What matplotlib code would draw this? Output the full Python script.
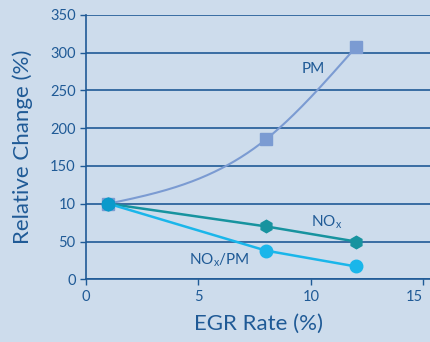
import numpy as np
import matplotlib
matplotlib.use("Agg")
import matplotlib.pyplot as plt

egr = [1, 8, 12]
pm = [100, 185, 307]
nox = [100, 70, 50]
nox_pm = [100, 38, 17]
yticks = [0, 50, 100, 150, 200, 250, 300, 350]
ytick_labels = ["0", "50", "10", "150", "200", "250", "300", "350"]
xticks = [0, 5, 10, 15]

bg = "#cddcec"
dark = "#1f5a96"
c_pm = "#7b9bd2"
c_nox = "#17939f"
c_noxpm = "#1ab6ea"
font = "Lato"


def natural_spline(x, y, n=300):
    x = np.asarray(x, float)
    y = np.asarray(y, float)
    k = len(x)
    h = np.diff(x)
    A = np.zeros((k, k))
    b = np.zeros(k)
    A[0, 0] = A[-1, -1] = 1
    for i in range(1, k - 1):
        A[i, i - 1] = h[i - 1]
        A[i, i] = 2 * (h[i - 1] + h[i])
        A[i, i + 1] = h[i]
        b[i] = 6 * ((y[i + 1] - y[i]) / h[i] - (y[i] - y[i - 1]) / h[i - 1])
    M = np.linalg.solve(A, b)
    xs = np.linspace(x[0], x[-1], n)
    ys = np.empty_like(xs)
    for j, xv in enumerate(xs):
        i = min(np.searchsorted(x, xv, side="right") - 1, k - 2)
        t0 = x[i + 1] - xv
        t1 = xv - x[i]
        ys[j] = (M[i] * t0 ** 3 + M[i + 1] * t1 ** 3) / (6 * h[i]) \
            + (y[i] / h[i] - M[i] * h[i] / 6) * t0 \
            + (y[i + 1] / h[i] - M[i + 1] * h[i] / 6) * t1
    return xs, ys


fig = plt.figure(figsize=(4.3, 3.42), dpi=100, facecolor=bg)
ax = fig.add_axes([0.2, 0.1833, 0.8, 0.7737], facecolor=bg)

xs, ys = natural_spline(egr, pm)
ax.plot(xs, ys, color=c_pm, lw=1.5, zorder=3)
ax.plot(egr, pm, ls="none", marker="s", ms=8, color=c_pm, zorder=4, clip_on=False)

ax.plot(egr, nox, color=c_nox, lw=1.8, marker="h", ms=9, zorder=5, clip_on=False)
ax.plot(egr, nox_pm, color=c_noxpm, lw=1.8, zorder=6)
ax.plot(egr[1:], nox_pm[1:], ls="none", color=c_noxpm, marker="o", ms=9, zorder=6, clip_on=False)
ax.plot(egr[:1], nox_pm[:1], ls="none", color="#0a9acb", marker="o", ms=9, zorder=7, clip_on=False)

ax.set_xlim(0, 15.3)
ax.set_ylim(0, 350)
for y in yticks:
    ax.axhline(y, color=dark, lw=1.2, zorder=1)
ax.set_yticks(yticks)
ax.set_yticklabels(ytick_labels)
ax.set_xticks(xticks)
for s in ["top", "right"]:
    ax.spines[s].set_visible(False)
for s in ["left", "bottom"]:
    ax.spines[s].set_color(dark)
    ax.spines[s].set_linewidth(1.2)
ax.tick_params(colors=dark, labelsize=10.5, length=4, width=1, direction="out")
for lab in ax.get_xticklabels() + ax.get_yticklabels():
    lab.set_fontfamily(font)
ax.get_xticklabels()[-1].set_horizontalalignment("right")
ax.get_xticklabels()[-1].set_x(15.3)
ax.set_xlabel("EGR Rate (%)", fontsize=16, color=dark, family=font, labelpad=7)
ax.set_ylabel("Relative Change (%)", fontsize=16, color=dark, family=font, labelpad=12)

ax.text(9.6, 278, "PM", color=dark, fontsize=11, family=font, va="center")
ax.text(10.0, 76, "NO$_\\mathregular{x}$", color=dark, fontsize=11, family=font, va="center")
ax.text(4.6, 25, "NO$_\\mathregular{x}$/PM", color=dark, fontsize=11, family=font, va="center")

fig.savefig("out.png", dpi=100, facecolor=bg)
